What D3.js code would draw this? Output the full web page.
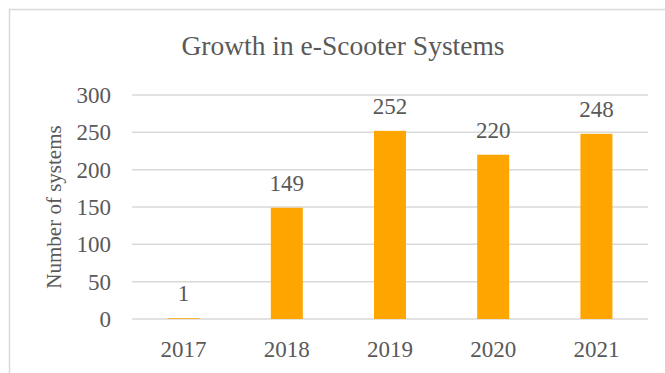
<!DOCTYPE html>
<html>
<head>
<meta charset="utf-8">
<script src="https://cdn.jsdelivr.net/npm/d3@7"></script>
<style>
  html, body { margin: 0; padding: 0; background: #fff; }
  svg { display: block; }
</style>
</head>
<body>
<script>
// Annual count of e-scooter systems
const years = ["2017", "2018", "2019", "2020", "2021"];
const systems = [1, 149, 252, 220, 248];
const yTicks = [0, 50, 100, 150, 200, 250, 300];

const W = 665, H = 373;
const plot = { left: 132, right: 648, top: 95, bottom: 319 };
const FONT = "'Liberation Serif', 'Times New Roman', serif";
const INK = "#595959";

const svg = d3.select("body").append("svg")
  .attr("width", W).attr("height", H);

// chart frame (runs past the right and bottom edges)
svg.append("rect")
  .attr("x", 9.5).attr("y", 9.5)
  .attr("width", 700).attr("height", 420)
  .attr("fill", "none")
  .attr("stroke", "#d9d9d9")
  .attr("stroke-width", 1.5);

const x = d3.scaleBand()
  .domain(years)
  .range([plot.left, plot.right])
  .paddingInner(0.69)
  .paddingOuter(0.345);

const y = d3.scaleLinear()
  .domain([0, 300])
  .range([plot.bottom, plot.top]);

// horizontal gridlines
svg.append("g")
  .selectAll("line")
  .data(yTicks)
  .join("line")
  .attr("x1", plot.left).attr("x2", plot.right)
  .attr("y1", d => y(d)).attr("y2", d => y(d))
  .attr("stroke", "#d9d9d9")
  .attr("stroke-width", 1.5);

// y axis tick labels
const yAxis = d3.axisLeft(y).tickValues(yTicks).tickSize(0).tickPadding(0);
const gy = svg.append("g")
  .attr("transform", `translate(${plot.left - 21},0)`)
  .call(yAxis);
gy.select(".domain").remove();
gy.selectAll("text")
  .style("font-family", FONT)
  .style("font-size", "23px")
  .style("fill", INK);

// x axis labels
const xAxis = d3.axisBottom(x).tickSize(0).tickPadding(0);
const gx = svg.append("g")
  .attr("transform", `translate(0,${plot.bottom})`)
  .call(xAxis);
gx.select(".domain").remove();
gx.selectAll("text")
  .attr("dy", null)
  .attr("y", 38)
  .style("font-family", FONT)
  .style("font-size", "23px")
  .style("fill", INK);

// bars
svg.append("g")
  .selectAll("rect")
  .data(years.map((yr, i) => ({ yr, v: systems[i] })))
  .join("rect")
  .attr("x", d => x(d.yr))
  .attr("width", x.bandwidth())
  .attr("y", d => y(d.v))
  .attr("height", d => y(0) - y(d.v))
  .attr("fill", "#ffa500");

// value labels
svg.append("g")
  .selectAll("text")
  .data(years.map((yr, i) => ({ yr, v: systems[i] })))
  .join("text")
  .attr("x", d => x(d.yr) + x.bandwidth() / 2)
  .attr("y", d => y(d.v) - 17)
  .attr("text-anchor", "middle")
  .style("font-family", FONT)
  .style("font-size", "23px")
  .style("fill", INK)
  .text(d => d.v);

// title
svg.append("text")
  .attr("x", 343)
  .attr("y", 55)
  .attr("text-anchor", "middle")
  .style("font-family", FONT)
  .style("font-size", "27.5px")
  .style("fill", INK)
  .text("Growth in e-Scooter Systems");

// y axis title
svg.append("text")
  .attr("transform", `translate(61,${(plot.top + plot.bottom) / 2}) rotate(-90)`)
  .attr("text-anchor", "middle")
  .style("font-family", FONT)
  .style("font-size", "21px")
  .style("fill", INK)
  .text("Number of systems");
</script>
</body>
</html>
